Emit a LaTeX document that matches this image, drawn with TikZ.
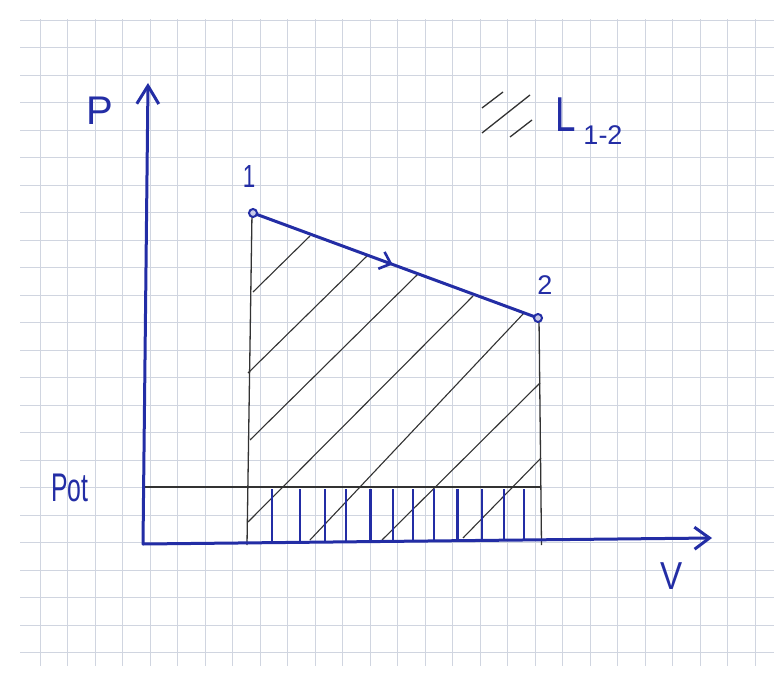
\documentclass[tikz,border=0pt]{standalone}
\usepackage{fontspec}
\setmainfont{Liberation Sans}
\usetikzlibrary{arrows.meta,decorations.markings}
\definecolor{pen}{RGB}{35,45,165}
\definecolor{ink}{RGB}{50,50,50}
\definecolor{gridc}{RGB}{208,213,224}
\begin{document}
\begin{tikzpicture}[x=1pt,y=-1pt,
  gridline/.style={gridc, line width=0.7pt},
  axisline/.style={pen, line width=3pt, line cap=round, -{Straight Barb[length=18pt,width=22pt,line width=3pt]}},
  thinline/.style={ink, line width=1.3pt},
  hatchb/.style={pen, line width=2.6pt},
  lbl/.style={pen, inner sep=0pt, anchor=center},
  dot/.style={draw=pen, line width=2pt, fill=pen!25, circle, minimum size=8pt, inner sep=0pt}]
\useasboundingbox (0,0) rectangle (774,682);
\fill[white] (0,0) rectangle (774,682);
% grid paper
\begin{scope}
\clip (20,20) rectangle (774,665);
\foreach \i in {0,...,28} \draw[gridline] ({12.5+27.5*\i},0) -- ++(0,682);
\foreach \j in {0,...,24} \draw[gridline] (0,{20+27.5*\j}) -- ++(774,0);
\end{scope}
% coordinates
\coordinate (O) at (143,544);
\coordinate (Ptip) at (148,83);
\coordinate (Vtip) at (712,538);
\coordinate (p1) at (253,213);
\coordinate (p2) at (538,318);
\coordinate (l1t) at (252,213);
\coordinate (l1b) at (247,545);
\coordinate (r1t) at (539,318);
\coordinate (r1b) at (541.5,545);
\coordinate (potL) at (143,487);
\coordinate (potR) at (541,487);
% black frame lines
\draw[thinline] (l1t) -- (l1b);
\draw[thinline] (r1t) -- (r1b);
\draw[thinline] (potL) -- (potR);
% diagonal hatching
\foreach \ax/\ay/\bx/\by in {253/292/310/236, 248/373/367/256, 250/440/418/274,
  248/522/473/296, 310/540/524/313, 382/540/540/383, 463/538/541/458}
  \draw[thinline, line width=1.1pt] (\ax,\ay) -- (\bx,\by);
% blue vertical hatching
\foreach \x in {272,300,325,346,370.5,393,413,434,457.5,482,504,524}
  \draw[hatchb] (\x,489) -- (\x,541);
% axes
\draw[axisline] (O) -- (Ptip);
\draw[axisline, -{Straight Barb[length=15pt,width=22pt,line width=3pt]}] (O) -- (Vtip);
% process line 1-2
\draw[pen, line width=3pt, postaction={decorate},
  decoration={markings, mark=at position 0.49 with {\arrow[line width=2.6pt]{Straight Barb[length=10pt,width=18pt]}}}]
  (p1) -- (p2);
\node[dot] (n1) at (p1) {};
\node[dot] (n2) at (p2) {};
% labels
\node[lbl] (lP) at (100,111) {\fontsize{40}{40}\selectfont P};
\node[lbl] (lone) at (249,176) {\scalebox{0.7}[1]{\fontsize{32}{32}\selectfont 1}};
\node[lbl] (ltwo) at (545,285) {\fontsize{27}{27}\selectfont 2};
\node[lbl] (lL) at (566,115) {\scalebox{0.75}[1]{\fontsize{49}{49}\selectfont L}};
\node[lbl] (lsub) at (603,135) {\fontsize{27}{27}\selectfont 1-2};
\node[lbl] (lPot) at (70,488) {\scalebox{0.62}[1]{\fontsize{40}{40}\selectfont Pot}};
\node[lbl] (lV) at (672,576) {\scalebox{0.85}[1]{\fontsize{39}{39}\selectfont V}};
% legend hatch
\coordinate (g1a) at (482,108); \coordinate (g1b) at (503,92);
\coordinate (g2a) at (482,133); \coordinate (g2b) at (530,95);
\coordinate (g3a) at (510,137); \coordinate (g3b) at (532,120);
\draw[thinline] (g1a) -- (g1b);
\draw[thinline] (g2a) -- (g2b);
\draw[thinline] (g3a) -- (g3b);
\end{tikzpicture}
\end{document}
